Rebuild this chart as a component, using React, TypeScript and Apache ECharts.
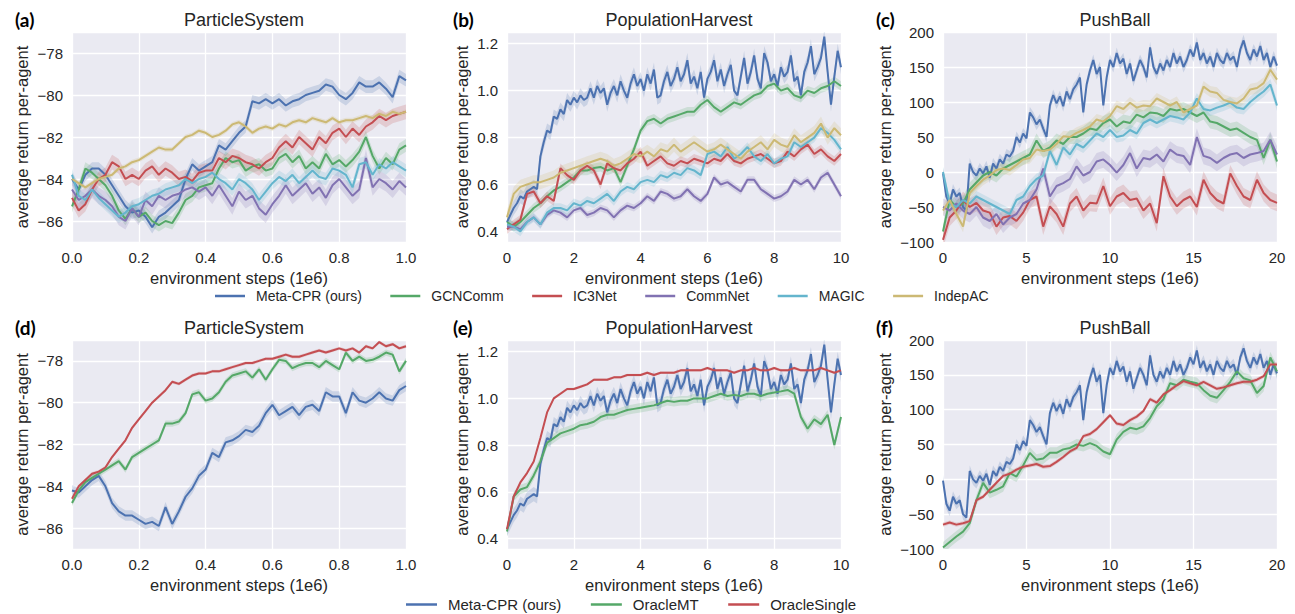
import React, { useEffect, useRef } from "react";
import * as echarts from "echarts";

// ---------- data ----------
const SERIES_MAIN = ["Meta-CPR (ours)", "GCNComm", "IC3Net", "CommNet", "MAGIC", "IndepAC"];
const SERIES_ORACLE = ["Meta-CPR (ours)", "OracleMT", "OracleSingle"];
const PANEL_TITLES = ["ParticleSystem", "PopulationHarvest", "PushBall", "ParticleSystem", "PopulationHarvest", "PushBall"];
const PANEL_LABELS = ["(a)", "(b)", "(c)", "(d)", "(e)", "(f)"];
const X_MAX = [1, 10, 20];
const X_INTERVAL = [0.2, 2, 5];
const Y_RANGE = [[-87, -77], [0.355, 1.25], [-100, 200]];

// (a) ParticleSystem, x 0..1
const A_META = [-84.0,-84.5,-83.8,-83.5,-83.5,-83.8,-84.3,-84.8,-85.3,-85.6,-85.5,-85.8,-86.3,-85.8,-85.6,-85.3,-85.0,-84.0,-83.3,-83.6,-83.4,-83.2,-82.4,-82.6,-82.2,-81.8,-81.5,-80.3,-80.4,-80.2,-80.4,-80.2,-80.5,-80.3,-80.2,-80.0,-79.9,-79.8,-79.5,-79.6,-80.0,-80.2,-79.9,-79.4,-79.6,-79.6,-79.4,-79.7,-80.1,-79.1,-79.3];
const A_GCN = [-85.3,-84.5,-83.5,-83.7,-84.0,-84.3,-84.8,-85.5,-85.9,-85.4,-85.8,-85.6,-86.0,-86.2,-86.0,-86.1,-85.6,-85.0,-84.8,-84.4,-84.3,-84.2,-83.5,-83.0,-83.2,-83.1,-83.6,-83.4,-83.3,-83.6,-83.5,-83.0,-82.8,-83.2,-82.9,-83.5,-83.2,-83.5,-82.8,-83.3,-83.1,-83.4,-83.1,-82.7,-82.0,-82.9,-83.5,-83.0,-83.3,-82.6,-82.4];
const A_IC3 = [-84.9,-85.5,-85.2,-84.5,-84.0,-83.8,-83.2,-83.4,-84.0,-83.8,-84.0,-83.6,-83.4,-83.8,-83.5,-83.7,-84.0,-83.9,-84.1,-83.7,-83.6,-83.6,-83.0,-83.2,-82.9,-83.0,-83.2,-83.3,-83.5,-83.2,-83.0,-82.5,-82.2,-82.5,-82.0,-82.3,-82.6,-82.0,-82.3,-81.8,-81.6,-82.0,-81.6,-81.9,-81.5,-81.3,-81.0,-81.2,-81.0,-80.9,-80.8];
const A_COMM = [-84.5,-85.0,-84.8,-84.5,-84.8,-85.0,-85.3,-85.8,-86.0,-85.4,-85.8,-85.0,-85.3,-84.8,-85.0,-84.8,-84.7,-84.5,-84.4,-84.6,-84.4,-84.8,-84.3,-84.8,-85.3,-84.6,-85.0,-84.8,-85.4,-85.7,-85.2,-84.8,-84.3,-84.8,-84.5,-84.2,-84.7,-84.4,-84.9,-84.3,-84.0,-84.4,-84.8,-84.5,-83.0,-84.4,-84.0,-84.2,-84.5,-84.1,-84.4];
const A_MAGIC = [-83.8,-84.8,-85.0,-84.5,-84.9,-85.2,-85.5,-85.8,-85.6,-85.3,-85.2,-85.0,-84.8,-84.7,-84.5,-84.4,-84.3,-84.0,-84.2,-84.0,-83.9,-83.7,-84.0,-84.2,-84.5,-84.0,-84.2,-84.5,-85.0,-84.6,-84.2,-83.9,-84.1,-83.8,-84.2,-83.9,-83.6,-83.9,-84.0,-83.5,-83.6,-83.8,-84.4,-83.3,-83.2,-83.8,-83.3,-83.5,-83.2,-83.4,-83.6];
const A_INDEP = [-84.0,-84.2,-84.4,-84.2,-84.0,-83.9,-83.8,-83.5,-83.4,-83.2,-83.1,-82.9,-82.7,-82.5,-82.6,-82.6,-82.3,-82.0,-81.9,-81.7,-81.8,-82.0,-81.9,-81.7,-81.4,-81.3,-81.5,-81.8,-81.6,-81.5,-81.6,-81.4,-81.5,-81.3,-81.2,-81.3,-81.1,-81.2,-81.3,-81.1,-81.3,-81.2,-81.2,-81.1,-81.0,-81.1,-80.9,-81.0,-80.8,-80.9,-80.8];
const A_BAND = [0.3, 0.3, 0.35, 0.4, 0.3, 0.12];

// (b) PopulationHarvest, x 0..10
const B_META = [0.44,0.47,0.50,0.52,0.55,0.54,0.57,0.58,0.59,0.58,0.72,0.78,0.83,0.82,0.89,0.88,0.92,0.90,0.96,0.94,0.97,0.95,0.98,0.96,0.97,1.01,0.97,1.02,0.99,1.01,0.94,0.99,1.02,0.98,1.04,1.00,0.97,1.03,1.07,1.02,1.05,1.00,1.07,1.03,1.09,0.97,0.98,1.04,1.08,1.02,1.05,1.10,1.04,1.07,1.13,1.03,1.06,1.01,1.08,0.97,1.05,1.08,1.13,1.04,1.09,1.02,1.07,1.11,1.00,0.98,1.06,1.14,1.03,1.08,1.15,1.05,1.01,1.16,1.12,1.04,1.07,1.02,1.10,1.06,1.08,1.15,1.04,1.06,0.98,1.08,1.12,1.19,1.07,1.10,1.14,1.23,1.08,0.94,1.06,1.17,1.10];
const B_GCN = [0.44,0.42,0.44,0.47,0.50,0.52,0.55,0.575,0.59,0.61,0.63,0.66,0.66,0.67,0.675,0.66,0.67,0.61,0.68,0.75,0.83,0.87,0.88,0.86,0.88,0.89,0.90,0.91,0.91,0.94,0.96,0.93,0.91,0.93,0.95,0.94,0.96,0.98,0.99,1.02,1.03,1.00,1.01,0.98,0.97,1.00,0.99,1.01,1.02,1.04,1.02];
const B_IC3 = [0.41,0.43,0.45,0.56,0.57,0.52,0.55,0.53,0.67,0.64,0.62,0.66,0.68,0.66,0.60,0.69,0.67,0.66,0.69,0.71,0.74,0.68,0.70,0.72,0.69,0.68,0.70,0.69,0.71,0.70,0.69,0.71,0.70,0.73,0.70,0.69,0.71,0.72,0.73,0.71,0.69,0.70,0.74,0.72,0.75,0.77,0.73,0.75,0.72,0.70,0.73];
const B_COMM = [0.42,0.42,0.41,0.44,0.46,0.43,0.47,0.49,0.48,0.46,0.49,0.50,0.47,0.48,0.50,0.49,0.46,0.49,0.51,0.50,0.52,0.55,0.53,0.57,0.56,0.54,0.55,0.58,0.55,0.53,0.56,0.63,0.60,0.61,0.59,0.57,0.62,0.62,0.58,0.56,0.54,0.55,0.57,0.62,0.60,0.62,0.58,0.63,0.65,0.60,0.55];
const B_MAGIC = [0.43,0.42,0.40,0.44,0.46,0.43,0.48,0.50,0.50,0.49,0.52,0.51,0.53,0.52,0.54,0.56,0.53,0.57,0.59,0.58,0.61,0.62,0.61,0.64,0.63,0.65,0.64,0.67,0.66,0.64,0.73,0.74,0.72,0.76,0.71,0.73,0.76,0.72,0.70,0.73,0.69,0.71,0.72,0.78,0.76,0.78,0.80,0.84,0.82,0.79,0.75];
const B_INDEP = [0.46,0.56,0.59,0.60,0.61,0.61,0.62,0.63,0.65,0.66,0.67,0.68,0.69,0.70,0.71,0.70,0.68,0.69,0.71,0.73,0.72,0.74,0.72,0.75,0.74,0.77,0.74,0.76,0.78,0.76,0.74,0.75,0.77,0.75,0.73,0.71,0.74,0.76,0.78,0.75,0.79,0.77,0.76,0.81,0.78,0.80,0.82,0.86,0.80,0.84,0.81];
const B_BAND = [0.03, 0.02, 0.02, 0.015, 0.02, 0.03];

// (c) PushBall, x 0..20
const C_META = [-2,-35,-45,-25,-35,-30,-50,-55,12,0,-5,5,-2,8,-8,12,5,18,12,25,22,30,50,42,55,48,85,78,68,75,62,50,95,110,98,108,94,115,104,118,125,135,85,125,145,160,140,150,95,135,160,150,170,155,162,140,155,130,145,160,150,135,178,150,140,155,145,160,150,170,155,165,150,160,175,165,185,160,170,155,165,150,170,160,155,170,160,165,150,175,188,170,160,175,165,180,160,170,150,165,152];
const C_GCN = [-85,-40,-50,-45,-25,-15,-5,0,-5,5,10,15,20,25,45,30,35,45,40,50,50,55,62,60,70,75,65,72,70,82,78,85,84,80,90,88,90,85,80,85,72,70,65,60,62,56,50,46,20,46,15];
const C_IC3 = [-97,-65,-55,-40,-50,-44,-55,-58,-78,-65,-63,-70,-58,-40,-35,-78,-49,-60,-78,-45,-35,-55,-44,-45,-20,-49,-35,-30,-40,-38,-55,-45,-73,-6,-35,-49,-40,-35,-50,-11,-30,-40,-45,-2,-20,-35,-40,-11,-30,-40,-44];
const C_COMM = [-50,-55,-45,-55,-60,-50,-65,-70,-60,-75,-65,-60,-45,-40,-25,5,-35,-20,-16,-10,8,-5,0,15,18,10,-1,10,27,5,20,18,25,15,32,25,23,10,50,23,20,13,20,25,27,20,25,27,30,46,25];
const C_MAGIC = [0,-45,-50,-40,-45,-35,-40,-45,-50,-55,-60,-40,-35,-20,-10,-5,30,10,35,25,40,35,45,55,50,60,50,52,60,55,70,75,70,75,80,78,75,85,105,90,88,92,95,99,92,90,100,108,115,125,95];
const C_INDEP = [-55,-40,-60,-78,-30,-20,-11,-5,3,5,3,10,18,20,32,30,32,40,51,50,56,60,65,75,72,80,94,90,99,92,95,94,105,100,95,100,85,90,95,122,115,113,103,100,98,105,118,120,127,146,132];
const C_BAND = [8, 10, 12, 12, 8, 8];

// (d) ParticleSystem oracles, x 0..1
const D_META = [-84.2,-84.3,-84.0,-83.7,-83.5,-84.0,-84.8,-85.2,-85.4,-85.4,-85.6,-85.8,-85.7,-85.9,-85.0,-85.8,-85.2,-84.5,-84.1,-83.5,-83.2,-82.4,-82.6,-81.9,-81.8,-81.6,-81.3,-81.4,-81.1,-80.5,-80.1,-80.6,-80.4,-80.2,-80.6,-80.2,-80.1,-80.4,-79.5,-79.7,-79.7,-80.5,-79.5,-79.9,-80.0,-79.8,-79.5,-79.8,-79.9,-79.4,-79.2];
const D_MT = [-84.8,-84.2,-83.8,-83.6,-83.4,-83.2,-83.0,-82.8,-83.2,-82.6,-82.4,-82.2,-82.0,-81.8,-81.0,-81.0,-80.9,-80.5,-79.6,-79.5,-79.9,-79.8,-79.5,-79.0,-78.7,-78.6,-78.5,-78.8,-78.4,-78.9,-78.4,-77.95,-78.0,-78.35,-78.2,-78.1,-78.1,-78.3,-78.0,-78.2,-78.4,-77.6,-78.0,-77.8,-78.0,-77.95,-77.8,-77.6,-77.7,-78.5,-78.0];
const D_SINGLE = [-84.6,-84.0,-83.7,-83.4,-83.3,-83.1,-82.6,-82.2,-81.8,-81.2,-80.8,-80.4,-80.0,-79.7,-79.4,-79.0,-79.1,-78.9,-78.7,-78.6,-78.6,-78.5,-78.5,-78.4,-78.3,-78.2,-78.1,-78.1,-78.0,-77.9,-77.9,-77.8,-77.7,-77.8,-77.8,-77.7,-77.6,-77.5,-77.6,-77.5,-77.4,-77.5,-77.4,-77.6,-77.3,-77.4,-77.1,-77.3,-77.2,-77.4,-77.3];
const D_BAND = [0.25, 0.15, 0.08];

// (e) PopulationHarvest oracles, x 0..10
const E_MT = [0.43,0.58,0.61,0.62,0.67,0.73,0.81,0.83,0.85,0.86,0.87,0.885,0.89,0.90,0.92,0.93,0.93,0.94,0.95,0.955,0.96,0.965,0.97,0.98,0.99,0.985,0.99,0.99,1.00,1.00,1.00,1.01,1.02,1.01,1.015,1.01,1.02,1.02,1.01,1.02,1.025,1.03,1.036,1.02,0.92,0.87,0.91,0.89,0.93,0.80,0.92];
const E_SINGLE = [0.44,0.58,0.64,0.68,0.73,0.83,0.94,1.00,1.02,1.04,1.04,1.05,1.06,1.08,1.08,1.08,1.09,1.09,1.10,1.10,1.10,1.11,1.10,1.11,1.11,1.11,1.12,1.12,1.12,1.12,1.13,1.12,1.12,1.12,1.11,1.12,1.12,1.13,1.12,1.12,1.13,1.12,1.12,1.13,1.12,1.12,1.12,1.13,1.12,1.11,1.12];
const E_BAND = [0.03, 0.02, 0.006];

// (f) PushBall oracles, x 0..20
const F_MT = [-98,-90,-82,-75,-63,-30,-5,-19,-15,-10,9,4,20,38,28,30,38,38,43,45,50,48,52,48,40,36,57,68,74,72,76,88,105,115,138,135,143,140,138,128,120,117,128,140,155,145,142,124,134,175,155];
const F_SINGLE = [-65,-62,-65,-63,-60,-30,-25,-15,-5,5,8,14,18,20,22,18,19,25,32,40,45,62,65,72,82,92,80,78,85,90,98,115,110,122,128,135,141,138,135,140,135,130,132,135,138,140,140,143,148,165,165];
const F_BAND = [8, 8, 3];

// ---------- styling ----------
const BLUE = "#4C72B0";
const GREEN = "#55A868";
const RED = "#C44E52";
const PURPLE = "#8172B2";
const CYAN = "#64B5CD";
const YELLOW = "#CCB974";
const MAIN_COLORS = [BLUE, GREEN, RED, PURPLE, CYAN, YELLOW];
const ORACLE_COLORS = [BLUE, GREEN, RED];
const TEXT = "#262626";
const FONT = "'Liberation Sans', Arial, sans-serif";

const PANEL_DATA = [
  [A_META, A_GCN, A_IC3, A_COMM, A_MAGIC, A_INDEP],
  [B_META, B_GCN, B_IC3, B_COMM, B_MAGIC, B_INDEP],
  [C_META, C_GCN, C_IC3, C_COMM, C_MAGIC, C_INDEP],
  [D_META, D_MT, D_SINGLE],
  [B_META, E_MT, E_SINGLE],
  [C_META, F_MT, F_SINGLE],
];
const PANEL_BANDS = [A_BAND, B_BAND, C_BAND, D_BAND, E_BAND, F_BAND];

// layout
const GRID_LEFT = [72, 507, 943];
const GRID_W = 334;
const ROW_TOP = [32, 340];
const ROW_H = [210, 209];
const Y_NAME_GAP = [42, 37, 50];
const TITLE_TOP = [6, 314];
const LABEL_LEFT = [10, 448, 871];

const minus = (v: number) => (v < 0 ? "\u2212" + String(Math.abs(v)) : String(v));

function buildOption() {
  const grids: any[] = [];
  const xAxes: any[] = [];
  const yAxes: any[] = [];
  const series: any[] = [];
  const titles: any[] = [];

  for (let k = 0; k < 6; k++) {
    const col = k % 3;
    const row = Math.floor(k / 3);
    grids.push({
      left: GRID_LEFT[col],
      top: ROW_TOP[row],
      width: GRID_W,
      height: ROW_H[row],
      show: true,
      backgroundColor: "#EAEAF2",
      borderWidth: 0,
    });
    xAxes.push({
      gridIndex: k,
      type: "value",
      min: 0,
      max: X_MAX[col],
      interval: X_INTERVAL[col],
      axisLine: { show: false },
      axisTick: { show: false },
      splitLine: { show: true, lineStyle: { color: "#ffffff", width: 1.3 } },
      axisLabel: {
        fontSize: 15,
        color: TEXT,
        fontFamily: FONT,
        margin: 8,
        formatter: (v: number) => (col === 0 ? v.toFixed(1) : String(Math.round(v))),
      },
      name: "environment steps (1e6)",
      nameLocation: "middle",
      nameGap: 27,
      nameTextStyle: { fontSize: 16.5, color: TEXT, fontFamily: FONT },
    });
    const yr = Y_RANGE[col];
    const y: any = {
      gridIndex: k,
      type: "value",
      min: yr[0],
      max: yr[1],
      axisLine: { show: false },
      axisTick: { show: false },
      splitLine: { show: true, lineStyle: { color: "#ffffff", width: 1.3 } },
      axisLabel: {
        fontSize: 15,
        color: TEXT,
        fontFamily: FONT,
        margin: 9,
        showMinLabel: col === 2,
        showMaxLabel: col === 2,
        formatter: (v: number) => (col === 1 ? v.toFixed(1) : minus(Math.round(v))),
      },
      name: "average return per-agent",
      nameLocation: "middle",
      nameGap: Y_NAME_GAP[col],
      nameTextStyle: { fontSize: 16.5, color: TEXT, fontFamily: FONT },
    };
    if (col === 2) y.interval = 50;
    else y.splitNumber = 5;
    yAxes.push(y);

    const cx = GRID_LEFT[col] + GRID_W / 2;
    titles.push({
      text: PANEL_TITLES[k],
      left: cx,
      top: TITLE_TOP[row],
      textAlign: "center",
      textStyle: { fontSize: 18, fontWeight: "normal", color: TEXT, fontFamily: FONT },
    });
    titles.push({
      text: PANEL_LABELS[k],
      left: LABEL_LEFT[col],
      top: TITLE_TOP[row] - 1,
      textStyle: { fontSize: 19, fontWeight: "bold", color: "#000", fontFamily: "Lato, 'Open Sans', sans-serif" },
    });

    const names = row === 0 ? SERIES_MAIN : SERIES_ORACLE;
    const colors = row === 0 ? MAIN_COLORS : ORACLE_COLORS;
    const data = PANEL_DATA[k];
    const bands = PANEL_BANDS[k];
    data.forEach((vals, j) => {
      const n = vals.length;
      const xs = vals.map((_, i) => (i * X_MAX[col]) / (n - 1));
      const b = bands[j];
      const color = colors[j];
      // confidence band: one polygon through the library's coordinate mapping
      series.push({
        type: "custom",
        xAxisIndex: k,
        yAxisIndex: k,
        data: vals.map((v, i) => [xs[i], v]),
        silent: true,
        clip: true,
        z: 1,
        renderItem: (params: any, api: any) => {
          if (params.dataIndex !== 0) return null;
          const upper = vals.map((v, i) => api.coord([xs[i], v + b]));
          const lower = vals.map((v, i) => api.coord([xs[i], v - b])).reverse();
          return {
            type: "polygon",
            shape: { points: upper.concat(lower) },
            style: { fill: color, opacity: 0.2 },
          };
        },
      });
      series.push({
        type: "line",
        name: names[j],
        xAxisIndex: k,
        yAxisIndex: k,
        data: vals.map((v, i) => [xs[i], v]),
        symbol: "none",
        showSymbol: false,
        lineStyle: { color, width: 2 },
        itemStyle: { color },
        silent: true,
        z: 3,
      });
    });
  }

  return {
    animation: false,
    textStyle: { fontFamily: FONT },
    title: titles,
    grid: grids,
    xAxis: xAxes,
    yAxis: yAxes,
    series,
    legend: [
      {
        data: SERIES_MAIN,
        left: 205,
        top: 287,
        orient: "horizontal",
        icon: "rect",
        itemWidth: 30,
        itemHeight: 2.5,
        itemGap: 28.5,
        padding: [2, 10, 2, 10],
        backgroundColor: "#ffffff",
        selectedMode: false,
        textStyle: { fontSize: 14, color: TEXT, fontFamily: FONT, padding: [0, 0, 0, 6] },
      },
      {
        data: SERIES_ORACLE,
        left: 396,
        top: 595,
        orient: "horizontal",
        icon: "rect",
        itemWidth: 31,
        itemHeight: 2.5,
        itemGap: 29.5,
        padding: [2, 10, 2, 10],
        backgroundColor: "#ffffff",
        selectedMode: false,
        textStyle: { fontSize: 15, color: TEXT, fontFamily: FONT, padding: [0, 0, 0, 6] },
      },
    ],
  };
}

export default function App() {
  const ref = useRef<HTMLDivElement>(null);
  useEffect(() => {
    if (!ref.current) return;
    const chart = echarts.init(ref.current, undefined, { renderer: "svg" });
    chart.setOption(buildOption() as any);
    return () => chart.dispose();
  }, []);
  return (
    <div
      ref={ref}
      style={{ position: "fixed", left: 0, top: 0, width: 1295, height: 614, background: "#ffffff" }}
    />
  );
}
